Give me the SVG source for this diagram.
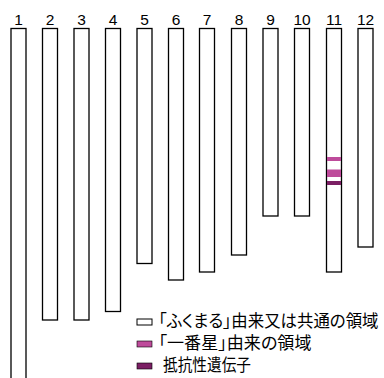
<svg xmlns="http://www.w3.org/2000/svg" width="384" height="378" viewBox="0 0 384 378">
<style>
.c{fill:#fff;stroke:#000;stroke-width:1.3}
.n{font-family:"Liberation Sans",Arial,sans-serif;font-size:15.5px;fill:#000;text-anchor:middle}
.l{font-family:"Noto Sans CJK JP","Noto Sans CJK SC",sans-serif;font-size:16.5px;fill:#000;font-feature-settings:"palt"}
.p{fill:#BE4B9B}
.d{fill:#7B1F64}
</style>
<rect width="384" height="378" fill="#fff"/>
<g id="chr1"><rect class="c" x="11" y="28.5" width="15" height="370"/><text class="n" x="18.5" y="24.5">1</text></g>
<g id="chr2"><rect class="c" x="42.5" y="28.5" width="15" height="291.5"/><text class="n" x="50" y="24.5">2</text></g>
<g id="chr3"><rect class="c" x="74" y="28.5" width="15" height="291.5"/><text class="n" x="81.5" y="24.5">3</text></g>
<g id="chr4"><rect class="c" x="105.5" y="28.5" width="15" height="283"/><text class="n" x="113" y="24.5">4</text></g>
<g id="chr5"><rect class="c" x="137" y="28.5" width="15" height="235"/><text class="n" x="144.5" y="24.5">5</text></g>
<g id="chr6"><rect class="c" x="168.5" y="28.5" width="15" height="251.5"/><text class="n" x="176" y="24.5">6</text></g>
<g id="chr7"><rect class="c" x="199.5" y="28.5" width="15" height="243.5"/><text class="n" x="207" y="24.5">7</text></g>
<g id="chr8"><rect class="c" x="231.5" y="28.5" width="15" height="226.5"/><text class="n" x="239" y="24.5">8</text></g>
<g id="chr9"><rect class="c" x="263" y="28.5" width="15" height="187.5"/><text class="n" x="270.5" y="24.5">9</text></g>
<g id="chr10"><rect class="c" x="294.5" y="28.5" width="15" height="187.5"/><text class="n" x="302" y="24.5">10</text></g>
<g id="chr11"><rect class="c" x="326.5" y="28.5" width="15" height="243.5"/>
<rect class="p" x="327" y="157" width="14" height="4"/>
<rect class="p" x="327" y="169.5" width="14" height="7.5"/>
<rect class="d" x="327" y="181" width="14" height="4"/>
<text class="n" x="334" y="24.5">11</text></g>
<g id="chr12"><rect class="c" x="358" y="28.5" width="15" height="218.5"/><text class="n" x="365.5" y="24.5">12</text></g>
<g id="legend">
<rect x="137" y="319" width="15" height="6" fill="#fff" stroke="#000" stroke-width="1"/>
<rect x="137" y="341" width="15" height="6" fill="#BE4B9B" stroke="#000" stroke-width="0.6"/>
<rect x="137" y="363" width="15" height="6" fill="#7B1F64" stroke="#000" stroke-width="0.6"/>
<text class="l" x="158.5" y="326.5" textLength="220" lengthAdjust="spacingAndGlyphs">「ふくまる」由来又は共通の領域</text>
<text class="l" x="158.5" y="348.5" textLength="153" lengthAdjust="spacingAndGlyphs">「一番星」由来の領域</text>
<text class="l" x="163" y="370.5" textLength="88" lengthAdjust="spacingAndGlyphs">抵抗性遺伝子</text>
</g>
<g id="connectors"/>
</svg>
